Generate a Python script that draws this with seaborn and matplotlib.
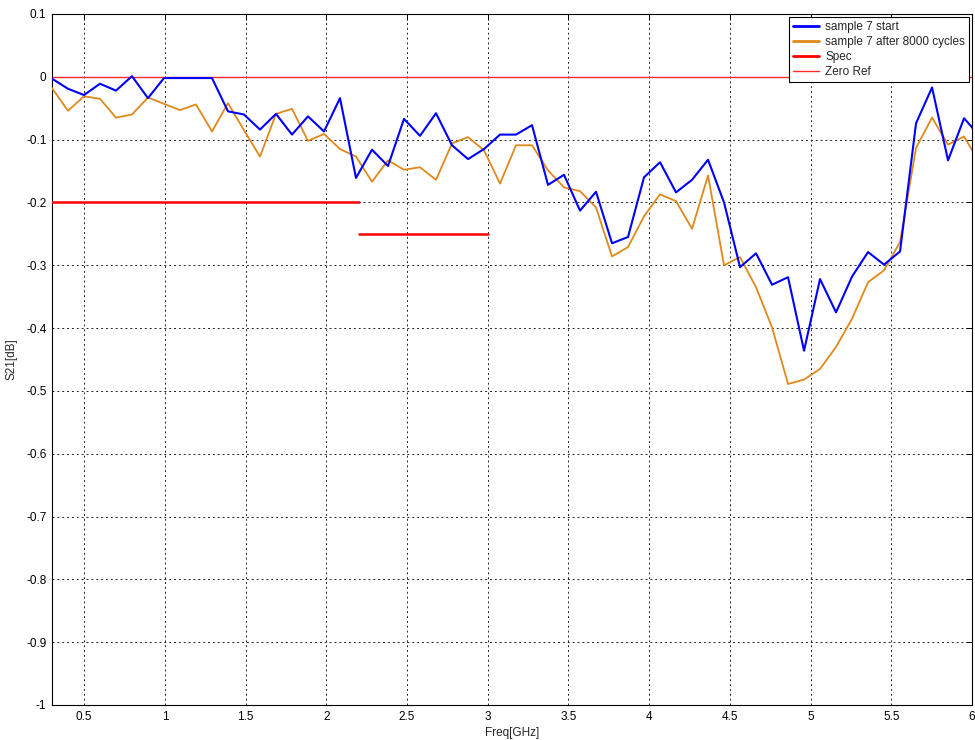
import numpy as np
import pandas as pd
import seaborn as sns
import matplotlib.pyplot as plt
from matplotlib.lines import Line2D
from matplotlib.ticker import FuncFormatter, MultipleLocator

# frequency sweep [GHz]
freq = np.linspace(0.3, 6.05, 59)

s21_start = [-0.003, -0.019, -0.029, -0.011, -0.022, 0.001, -0.034, -0.002, -0.002, -0.002,
             -0.002, -0.055, -0.060, -0.084, -0.059, -0.092, -0.063, -0.087, -0.034, -0.161,
             -0.116, -0.142, -0.067, -0.094, -0.058, -0.109, -0.131, -0.115, -0.092, -0.092,
             -0.077, -0.172, -0.156, -0.213, -0.183, -0.265, -0.255, -0.160, -0.136, -0.184,
             -0.164, -0.132, -0.200, -0.303, -0.281, -0.331, -0.319, -0.436, -0.322, -0.375,
             -0.318, -0.279, -0.299, -0.278, -0.074, -0.017, -0.133, -0.066, -0.095]

s21_cycled = [-0.018, -0.054, -0.031, -0.035, -0.065, -0.060, -0.033, -0.043, -0.053, -0.044,
              -0.087, -0.042, -0.085, -0.127, -0.059, -0.051, -0.102, -0.091, -0.115, -0.127,
              -0.167, -0.133, -0.148, -0.144, -0.164, -0.106, -0.096, -0.117, -0.170, -0.109,
              -0.109, -0.149, -0.176, -0.182, -0.208, -0.286, -0.271, -0.222, -0.187, -0.198,
              -0.242, -0.157, -0.300, -0.287, -0.335, -0.399, -0.489, -0.482, -0.465, -0.430,
              -0.385, -0.327, -0.308, -0.263, -0.113, -0.065, -0.108, -0.095, -0.138]

# spec mask segments
spec_start = [0.3, 2.2]
spec_stop = [2.2, 3.0]
spec_level = [-0.2, -0.25]
zero_ref = 0.0

BLUE = "#0000FF"
ORANGE = "#E0891A"
RED = "#FF0000"

df = pd.DataFrame({"freq": freq, "sample 7 start": s21_start,
                   "sample 7 after 8000 cycles": s21_cycled})
df_melted = pd.melt(df, id_vars=["freq"], var_name="series", value_name="s21")

spec = pd.DataFrame({
    "freq": spec_start + spec_stop,
    "s21": spec_level + spec_level,
    "seg": [0, 1, 0, 1],
})

sns.set_style("white")
plt.rcParams["font.family"] = ["Liberation Sans", "DejaVu Sans"]
plt.rcParams["axes.unicode_minus"] = False

fig = plt.figure(figsize=(9.75, 7.4), dpi=100)
ax = fig.add_axes([0.0533, 0.0473, 0.9436, 0.9338])

ax.axhline(zero_ref, color="#FF2A2A", lw=1.0, zorder=2)
sns.lineplot(data=df_melted, x="freq", y="s21", hue="series",
             palette={"sample 7 start": BLUE, "sample 7 after 8000 cycles": ORANGE},
             hue_order=["sample 7 after 8000 cycles", "sample 7 start"],
             size="series", sizes={"sample 7 start": 1.5, "sample 7 after 8000 cycles": 1.3},
             estimator=None, sort=False, legend=False, ax=ax, zorder=3)
sns.lineplot(data=spec, x="freq", y="s21", units="seg", estimator=None,
             color=RED, lw=1.8, legend=False, ax=ax, zorder=4)

ax.set_xlim(0.3, 6)
ax.set_ylim(-1, 0.1)
ax.xaxis.set_major_locator(MultipleLocator(0.5))
ax.yaxis.set_major_locator(MultipleLocator(0.1))
fmt = FuncFormatter(lambda v, p: f"{v:g}" if abs(v) > 1e-9 else "0")
ax.xaxis.set_major_formatter(fmt)
ax.yaxis.set_major_formatter(fmt)

ax.grid(True, color="#222222", lw=0.7, linestyle=(0, (2, 3)))
ax.tick_params(direction="in", length=4, width=0.7, top=True, right=True,
               labelsize=8.5, colors="black", pad=4)
for s in ax.spines.values():
    s.set_color("black")
    s.set_linewidth(0.8)

ax.set_xlabel("Freq[GHz]", fontsize=8.5, labelpad=3)
ax.set_ylabel("S21[dB]", fontsize=8.5)
ax.yaxis.set_label_coords(-0.037, 0.5)

handles = [
    Line2D([], [], color=BLUE, lw=2),
    Line2D([], [], color=ORANGE, lw=2),
    Line2D([], [], color=RED, lw=2),
    Line2D([], [], color="#FF2A2A", lw=1.0),
]
labels = ["sample 7 start", "sample 7 after 8000 cycles", "Spec", "Zero Ref"]
leg = ax.legend(handles, labels, loc="upper right", fontsize=8.5, frameon=True,
                fancybox=False, framealpha=1, edgecolor="black", borderpad=0.35,
                labelspacing=0.25, handlelength=2.2, handletextpad=0.5,
                borderaxespad=0.25)
leg.get_frame().set_linewidth(0.8)

fig.savefig("out.png", dpi=100)
